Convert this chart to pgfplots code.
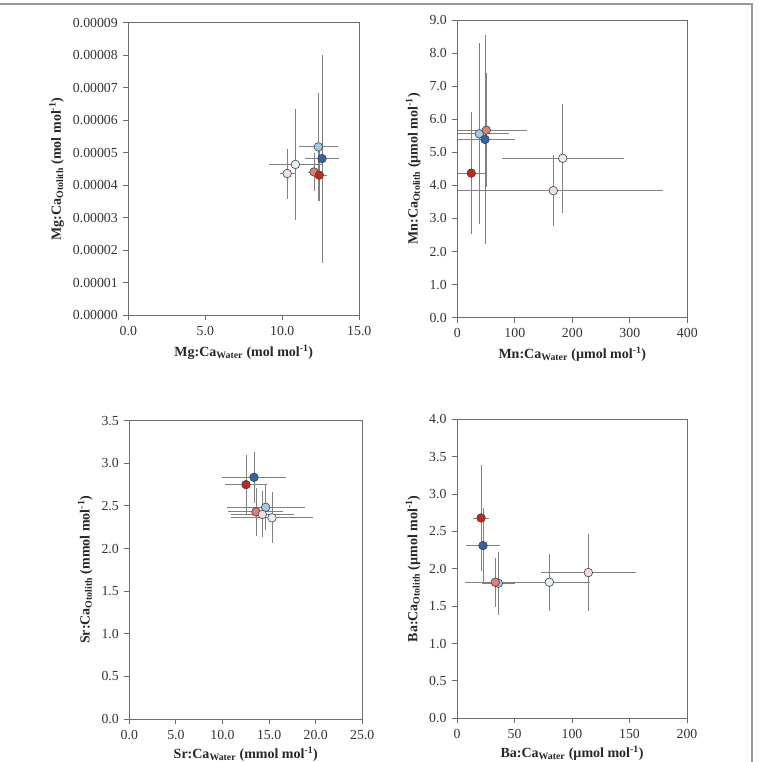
\documentclass[border=0pt]{standalone}
\usepackage{fontspec}
\setmainfont{Liberation Serif}
\usepackage{pgfplots}
\pgfplotsset{compat=1.18}
\definecolor{dblue}{RGB}{52,100,160}
\definecolor{lblue}{RGB}{158,202,236}
\definecolor{vlblue}{RGB}{228,238,246}
\definecolor{lpink}{RGB}{236,222,226}
\definecolor{salmon}{RGB}{226,124,116}
\definecolor{dred}{RGB}{196,40,28}
\definecolor{axgray}{RGB}{110,110,110}
\definecolor{ebgray}{RGB}{128,128,128}
\pgfplotsset{
  panel/.style={
    scale only axis, anchor=south west,
    axis line style={axgray, line width=0.9pt},
    tick style={axgray, line width=0.9pt},
    tick align=outside, major tick length=5pt,
    xtick pos=bottom, ytick pos=left,
    ticklabel style={font=\fontsize{13.8}{15}\selectfont, text=black!80},
    xticklabel style={yshift=-2.5pt},
    yticklabel style={xshift=-2pt},
    /pgf/number format/assume math mode=true,
    label style={font=\fontsize{14}{16}\selectfont\bfseries, text=black!85},
    xlabel style={yshift=-2pt},
    ylabel style={yshift=2pt},
    scaled ticks=false,
    clip=true,
  },
  bottompanel/.style={xlabel style={yshift=1.5pt}},
  sp/.style={only marks, mark=*, mark size=4.3pt,
    mark options={fill=#1, draw=black!75, line width=0.6pt},
    error bars/.cd, x dir=both, y dir=both, x explicit, y explicit, error mark=none,
    error bar style={ebgray, line width=0.8pt}},
}
\begin{document}
\begin{tikzpicture}
\path[use as bounding box] (0pt,0pt) rectangle (758pt,762pt);
\draw[gray!80, line width=1.2pt] (0pt,758pt) -- (752pt,758pt) -- (752pt,0pt);

% Panel 1: Mg
\begin{axis}[panel, at={(128.3pt,446.7pt)}, width=231pt, height=292.6pt,
  xmin=0, xmax=15, ymin=0, ymax=0.00009,
  xtick={0,5,10,15},
  ytick={0,0.00001,0.00002,0.00003,0.00004,0.00005,0.00006,0.00007,0.00008,0.00009},
  xticklabel style={/pgf/number format/.cd, fixed, fixed zerofill, precision=1},
  yticklabel style={/pgf/number format/.cd, fixed, fixed zerofill, precision=5},
  xlabel={Mg:Ca\textsubscript{Water} (mol mol\textsuperscript{-1})},
  ylabel={Mg:Ca\textsubscript{Otolith} (mol mol\textsuperscript{-1})}]
\addplot[sp=lpink] coordinates {(10.32,0.0000436) +- (0.48,0.0000077)};
\addplot[sp=vlblue] coordinates {(10.85,0.0000464) +- (1.7,0.0000171)};
\addplot[sp=lblue] coordinates {(12.34,0.0000518) +- (1.25,0.0000165)};
\addplot[sp=dblue] coordinates {(12.58,0.0000482) +- (1.08,0.000032)};
\addplot[sp=salmon] coordinates {(12.06,0.0000441) +- (0.4,0.0000058)};
\addplot[sp=dred] coordinates {(12.40,0.0000431) +- (0.5,0.000008)};
\end{axis}

% Panel 2: Mn
\begin{axis}[panel, at={(457.3pt,444.3pt)}, width=230pt, height=297.7pt,
  xmin=0, xmax=400, ymin=0, ymax=9,
  xtick={0,100,200,300,400},
  ytick={0,1,...,9},
  yticklabel style={/pgf/number format/.cd, fixed, fixed zerofill, precision=1},
  xlabel={Mn:Ca\textsubscript{Water} (µmol mol\textsuperscript{-1})},
  ylabel={Mn:Ca\textsubscript{Otolith} (µmol mol\textsuperscript{-1})}]
\addplot[sp=lpink] coordinates {(167,3.84) +- (190,1.07)};
\addplot[sp=vlblue] coordinates {(183.3,4.82) +- (106,1.65)};
\addplot[sp=dred] coordinates {(24.3,4.37) +- (24,1.84)};
\addplot[sp=lblue] coordinates {(38.3,5.56) +- (52,2.74)};
\addplot[sp=dblue] coordinates {(48.2,5.39) +- (52,3.15)};
\addplot[sp=salmon] coordinates {(50.4,5.67) +- (70,1.73)};
\end{axis}

% Panel 3: Sr
\begin{axis}[panel, bottompanel, at={(129.3pt,43pt)}, width=233pt, height=298.3pt,
  xmin=0, xmax=25, ymin=0, ymax=3.5,
  xtick={0,5,10,15,20,25},
  ytick={0,0.5,1,1.5,2,2.5,3,3.5},
  xticklabel style={/pgf/number format/.cd, fixed, fixed zerofill, precision=1},
  yticklabel style={/pgf/number format/.cd, fixed, fixed zerofill, precision=1},
  xlabel={Sr:Ca\textsubscript{Water} (mmol mol\textsuperscript{-1})},
  ylabel={Sr:Ca\textsubscript{Otolith} (mmol mol\textsuperscript{-1})}]
\addplot[sp=dblue] coordinates {(13.38,2.836) +- (3.45,0.3)};
\addplot[sp=dred] coordinates {(12.52,2.75) +- (2.3,0.35)};
\addplot[sp=lblue] coordinates {(14.63,2.484) +- (4.2,0.27)};
\addplot[sp=salmon] coordinates {(13.59,2.43) +- (2.95,0.28)};
\addplot[sp=lpink] coordinates {(14.27,2.40) +- (3.4,0.27)};
\addplot[sp=vlblue] coordinates {(15.31,2.36) +- (4.4,0.3)};
\end{axis}

% Panel 4: Ba
\begin{axis}[panel, bottompanel, at={(457pt,43.7pt)}, width=230pt, height=299pt,
  xmin=0, xmax=200, ymin=0, ymax=4,
  xtick={0,50,100,150,200},
  ytick={0,0.5,1,1.5,2,2.5,3,3.5,4},
  yticklabel style={/pgf/number format/.cd, fixed, fixed zerofill, precision=1},
  xlabel={Ba:Ca\textsubscript{Water} (µmol mol\textsuperscript{-1})},
  ylabel={Ba:Ca\textsubscript{Otolith} (µmol mol\textsuperscript{-1})}]
\addplot[sp=lpink] coordinates {(114.2,1.95) +- (41.3,0.52)};
\addplot[sp=vlblue] coordinates {(80.3,1.82) +- (35,0.38)};
\addplot[sp=lblue] coordinates {(35.9,1.806) +- (14.2,0.42)};
\addplot[sp=salmon] coordinates {(33.3,1.82) +- (26,0.33)};
\addplot[sp=dblue] coordinates {(22.6,2.31) +- (14.4,0.5)};
\addplot[sp=dred] coordinates {(20.9,2.68) +- (7,0.71)};
\end{axis}
\end{tikzpicture}
\end{document}
